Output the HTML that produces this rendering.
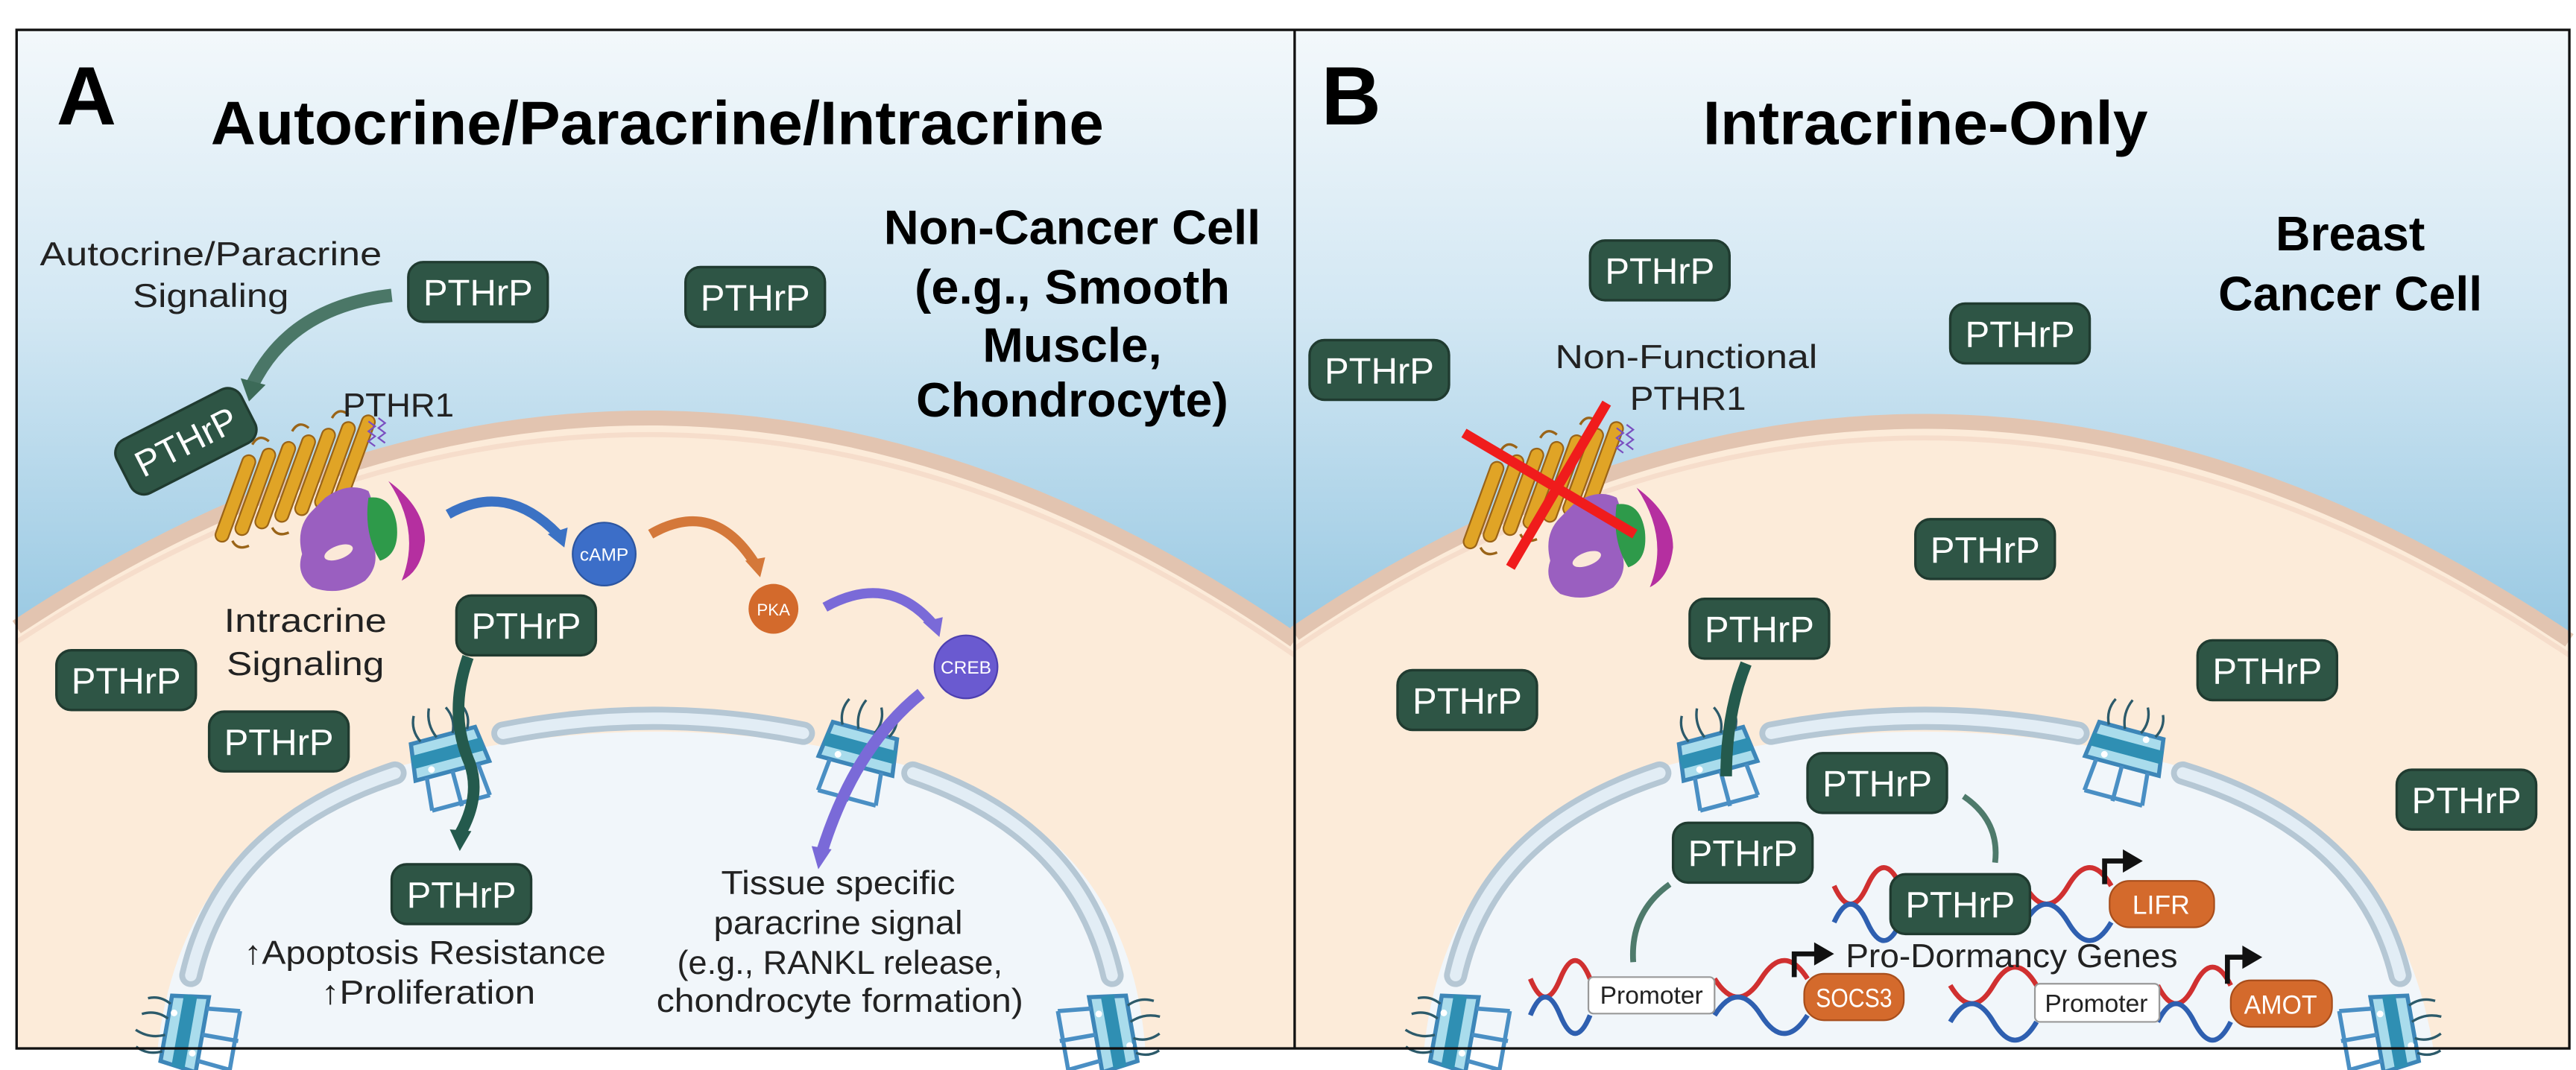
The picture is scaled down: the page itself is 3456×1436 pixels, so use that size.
<!DOCTYPE html>
<html><head><meta charset="utf-8"><style>
html,body{margin:0;padding:0;background:#fff;}
svg{display:block;}
text{font-family:"Liberation Sans",sans-serif;}
</style></head><body>
<svg width="3456" height="1436" viewBox="0 0 1552 645" preserveAspectRatio="none" xmlns="http://www.w3.org/2000/svg">
<defs>
<linearGradient id="skyg" x1="0" y1="18" x2="0" y2="400" gradientUnits="userSpaceOnUse">
<stop offset="0" stop-color="#f3f8fb"/><stop offset="0.45" stop-color="#d2e7f3"/><stop offset="1" stop-color="#94c6e1"/>
</linearGradient>
<g id="pth">
<rect x="-42" y="-18" width="84" height="36" rx="9" fill="#2e5545" stroke="#203b30" stroke-width="1.5"/>
<text x="0" y="8" font-size="22" fill="#fff" text-anchor="middle" textLength="66" lengthAdjust="spacingAndGlyphs">PTHrP</text>
</g>
<g id="pore">
<path d="M-20,-12 L20,-12 L23,10 L-23,10 Z" fill="#a9dcec" stroke="#3d86b8" stroke-width="2.5"/>
<rect x="-22" y="-5" width="44" height="8" fill="#2f8fb3"/>
<circle cx="-12" cy="6" r="2" fill="#fff"/><circle cx="10" cy="-9" r="2" fill="#fff"/>
<path d="M-16,10 L-18,30 M0,10 L0,32 M16,10 L18,30 M-18,30 L18,30" stroke="#4a8fc4" stroke-width="2.5" fill="none"/>
<path d="M-14,-12 q-4,-8 0,-16 M-4,-12 q-4,-9 0,-18 M6,-12 q4,-8 0,-16 M15,-12 q4,-7 1,-14" stroke="#2c5a6a" stroke-width="1.5" fill="none"/>
</g>
<g id="rec">
<g fill="#e0a426" stroke="#9a6418" stroke-width="1">
<rect x="-4" y="-27" width="8" height="55" rx="4" transform="translate(142,300) rotate(20)"/>
<rect x="-4" y="-27" width="8" height="55" rx="4" transform="translate(154,296) rotate(20)"/>
<rect x="-4" y="-27" width="8" height="55" rx="4" transform="translate(166,292) rotate(20)"/>
<rect x="-4" y="-27" width="8" height="55" rx="4" transform="translate(178,288) rotate(20)"/>
<rect x="-4" y="-27" width="8" height="55" rx="4" transform="translate(190,284) rotate(20)"/>
<rect x="-4" y="-27" width="8" height="55" rx="4" transform="translate(202,280) rotate(20)"/>
<rect x="-4" y="-27" width="8" height="55" rx="4" transform="translate(214,276) rotate(20)"/>
</g>
<g fill="none" stroke="#9a6418" stroke-width="1.5">
<path d="M140,326 q3,6 10,3"/><path d="M164,318 q3,6 10,3"/><path d="M188,310 q3,6 10,3"/>
<path d="M152,268 q4,-7 10,-2"/><path d="M176,260 q4,-7 10,-2"/><path d="M200,252 q4,-7 10,-2"/>
</g>
<path d="M222,254 l4,3 l-4,3 l4,3 l-4,3 l4,3 M228,252 l4,3 l-4,3 l4,3 l-4,3 l4,3" stroke="#7a4fc0" stroke-width="1" fill="none"/>
<path d="M196,300 q14,-10 26,-4 q6,14 2,30 q6,14 -4,24 q-16,10 -32,4 q-10,-8 -6,-20 q-4,-16 6,-26z" fill="#9a5fc0"/>
<ellipse cx="204" cy="333" rx="9" ry="4" transform="rotate(-20 204 333)" fill="#fbe9d8"/>
<path d="M222,300 q14,-2 17,16 q2,18 -10,22 q-10,-16 -7,-38z" fill="#2e9a4a"/>
<path d="M234,290 q22,16 22,36 q-2,18 -14,24 q12,-30 -8,-60z" fill="#b52fa0"/>
</g>
</defs>
<rect width="1552" height="645" fill="#fff"/>
<!-- Panel A -->
<rect x="10" y="18" width="770" height="614" fill="url(#skyg)"/>
<path d="M10,378 Q398,122 780,386 L780,632 L10,632 Z" fill="#fcebd9"/>
<path d="M10,378 Q398,122 780,386" fill="none" stroke="#e2c4b0" stroke-width="9"/>
<path d="M10,387 Q398,133 780,395" fill="none" stroke="#f6ddcb" stroke-width="3"/>
<path d="M95,632 Q110,500 240,462 Q395,420 548,462 Q680,500 690,632 Z" fill="#f1f6fa"/>
<g fill="none" stroke-linecap="round">
<path d="M115,588 Q135,500 238,466" stroke="#b5c7d4" stroke-width="14"/>
<path d="M115,588 Q135,500 238,466" stroke="#e2edf5" stroke-width="7"/>
<path d="M303,442 Q394,424 484,442" stroke="#b5c7d4" stroke-width="14"/>
<path d="M303,442 Q394,424 484,442" stroke="#e2edf5" stroke-width="7"/>
<path d="M550,466 Q650,500 670,588" stroke="#b5c7d4" stroke-width="14"/>
<path d="M550,466 Q650,500 670,588" stroke="#e2edf5" stroke-width="7"/>
</g>
<use href="#pore" transform="translate(270,455) rotate(-15)"/>
<use href="#pore" transform="translate(518,452) rotate(15)"/>
<use href="#pore" transform="translate(112,622) rotate(-80)"/>
<use href="#pore" transform="translate(670,622) rotate(80)"/>
<use href="#rec"/>
<!-- arrows A -->
<path d="M236,178 Q175,185 152,232" fill="none" stroke="#3c6a58" stroke-width="8" opacity="0.9"/>
<path d="M145,228 L150,242 L160,232 Z" fill="#3c6a58"/>
<path d="M270,310 Q305,290 336,322" fill="none" stroke="#3b72c4" stroke-width="6"/>
<path d="M330,322 L340,330 L342,318 Z" fill="#3b72c4"/>
<path d="M392,322 Q430,300 455,340" fill="none" stroke="#d4783a" stroke-width="6"/>
<path d="M449,338 L458,348 L461,336 Z" fill="#d4783a"/>
<path d="M497,366 Q535,345 562,376" fill="none" stroke="#7a6ad8" stroke-width="6"/>
<path d="M556,375 L566,384 L568,372 Z" fill="#7a6ad8"/>
<path d="M282,396 Q270,430 283,460 Q290,480 277,503" fill="none" stroke="#245a4d" stroke-width="7"/>
<path d="M271,500 L277,513 L284,501 Z" fill="#245a4d"/>
<path d="M555,418 Q515,450 495,514" fill="none" stroke="#7a6ad8" stroke-width="7"/>
<path d="M489,510 L493,524 L501,512 Z" fill="#7a6ad8"/>
<circle cx="364" cy="334" r="19" fill="#3c6ec8" stroke="#2c55a0"/><text x="364" y="338" font-size="11" fill="#fff" text-anchor="middle">cAMP</text>
<circle cx="466" cy="367" r="15" fill="#d36a2c"/><text x="466" y="371" font-size="10" fill="#fff" text-anchor="middle">PKA</text>
<circle cx="582" cy="402" r="19" fill="#6a5ad0" stroke="#4d3fb0"/><text x="582" y="406" font-size="11" fill="#fff" text-anchor="middle">CREB</text>
<use href="#pth" transform="translate(288,176)"/>
<use href="#pth" transform="translate(455,179)"/>
<use href="#pth" transform="translate(112,266) rotate(-27)"/>
<use href="#pth" transform="translate(317,377)"/>
<use href="#pth" transform="translate(76,410)"/>
<use href="#pth" transform="translate(168,447)"/>
<use href="#pth" transform="translate(278,539)"/>
<text x="34" y="75" font-size="50" font-weight="bold">A</text>
<text x="127" y="87" font-size="37" font-weight="bold" textLength="538" lengthAdjust="spacingAndGlyphs">Autocrine/Paracrine/Intracrine</text>
<g font-size="29" font-weight="bold" text-anchor="middle">
<text x="646" y="147" textLength="227" lengthAdjust="spacingAndGlyphs">Non-Cancer Cell</text>
<text x="646" y="183" textLength="190" lengthAdjust="spacingAndGlyphs">(e.g., Smooth</text>
<text x="646" y="218" textLength="108" lengthAdjust="spacingAndGlyphs">Muscle,</text>
<text x="646" y="251" textLength="188" lengthAdjust="spacingAndGlyphs">Chondrocyte)</text>
</g>
<g font-size="20" text-anchor="middle" fill="#222">
<text x="127" y="160" textLength="206" lengthAdjust="spacingAndGlyphs">Autocrine/Paracrine</text>
<text x="127" y="185" textLength="94" lengthAdjust="spacingAndGlyphs">Signaling</text>
<text x="240" y="251" textLength="67" lengthAdjust="spacingAndGlyphs">PTHR1</text>
<text x="184" y="381" textLength="98" lengthAdjust="spacingAndGlyphs">Intracrine</text>
<text x="184" y="407" textLength="95" lengthAdjust="spacingAndGlyphs">Signaling</text>
<text x="256" y="581" textLength="218" lengthAdjust="spacingAndGlyphs">↑Apoptosis Resistance</text>
<text x="258" y="605" textLength="129" lengthAdjust="spacingAndGlyphs">↑Proliferation</text>
<text x="505" y="539" textLength="141" lengthAdjust="spacingAndGlyphs">Tissue specific</text>
<text x="505" y="563" textLength="150" lengthAdjust="spacingAndGlyphs">paracrine signal</text>
<text x="506" y="587" textLength="196" lengthAdjust="spacingAndGlyphs">(e.g., RANKL release,</text>
<text x="506" y="610" textLength="221" lengthAdjust="spacingAndGlyphs">chondrocyte formation)</text>
</g>
<!-- Panel B -->
<rect x="780" y="18" width="768" height="614" fill="url(#skyg)"/>
<path d="M780,382 Q1160,124 1548,386 L1548,632 L780,632 Z" fill="#fcebd9"/>
<path d="M780,382 Q1160,124 1548,386" fill="none" stroke="#e2c4b0" stroke-width="9"/>
<path d="M780,391 Q1160,135 1548,395" fill="none" stroke="#f6ddcb" stroke-width="3"/>
<path d="M858,632 Q872,500 1002,462 Q1160,420 1313,462 Q1445,500 1466,632 Z" fill="#f1f6fa"/>
<g fill="none" stroke-linecap="round">
<path d="M877,588 Q897,500 1000,466" stroke="#b5c7d4" stroke-width="14"/>
<path d="M877,588 Q897,500 1000,466" stroke="#e2edf5" stroke-width="7"/>
<path d="M1067,442 Q1160,424 1252,442" stroke="#b5c7d4" stroke-width="14"/>
<path d="M1067,442 Q1160,424 1252,442" stroke="#e2edf5" stroke-width="7"/>
<path d="M1315,466 Q1425,500 1446,588" stroke="#b5c7d4" stroke-width="14"/>
<path d="M1315,466 Q1425,500 1446,588" stroke="#e2edf5" stroke-width="7"/>
</g>
<use href="#pore" transform="translate(1034,455) rotate(-15)"/>
<use href="#pore" transform="translate(1281,452) rotate(15)"/>
<use href="#pore" transform="translate(877,622) rotate(-80)"/>
<use href="#pore" transform="translate(1442,622) rotate(80)"/>
<use href="#rec" transform="translate(752,4)"/>
<path d="M882,261 L985,322 M968,243 L910,342" stroke="#f01c1c" stroke-width="6"/>
<path d="M1052,400 Q1040,430 1040,468" fill="none" stroke="#245a4d" stroke-width="7"/>
<path d="M1183,480 Q1205,495 1202,520" fill="none" stroke="#4e7a6b" stroke-width="3.5"/>
<path d="M1006,533 Q982,550 984,580" fill="none" stroke="#4e7a6b" stroke-width="3.5"/>
<!-- DNA -->
<g fill="none" stroke-width="3">
<path d="M1105,534 q10,22 20,0 q10,-22 20,0" stroke="#d03030"/><path d="M1105,556 q10,-22 20,0 q10,22 20,0" stroke="#2e5fb0"/>
<path d="M1220,534 q13,22 26,0 q13,-22 26,0" stroke="#d03030"/><path d="M1220,556 q13,-22 26,0 q13,22 26,0" stroke="#2e5fb0"/>
<path d="M922,590 q9,22 18,0 q9,-22 18,0" stroke="#d03030"/><path d="M922,612 q9,-22 18,0 q9,22 18,0" stroke="#2e5fb0"/>
<path d="M1033,590 q14,22 28,0 q14,-22 28,0" stroke="#d03030"/><path d="M1033,612 q14,-22 28,0 q14,22 28,0" stroke="#2e5fb0"/>
<path d="M1175,594 q13,22 26,0 q13,-22 26,0" stroke="#d03030"/><path d="M1175,616 q13,-22 26,0 q13,22 26,0" stroke="#2e5fb0"/>
<path d="M1300,594 q11,22 22,0 q11,-22 22,0" stroke="#d03030"/><path d="M1300,616 q11,-22 22,0 q11,22 22,0" stroke="#2e5fb0"/>
</g>
<g stroke="#111" stroke-width="3" fill="none">
<path d="M1268,533 V519 H1280"/><path d="M1081,589 V575 H1094"/><path d="M1342,593 V577 H1352"/>
</g>
<g fill="#111"><path d="M1279,512 L1291,519 L1279,526Z"/><path d="M1093,568 L1105,575 L1093,582Z"/><path d="M1351,570 L1363,577 L1351,584Z"/></g>
<rect x="1271" y="531" width="63" height="28" rx="12" fill="#d46a2c" stroke="#a84e1c"/><text x="1302" y="551" font-size="16" fill="#fff" text-anchor="middle">LIFR</text>
<rect x="1087" y="587" width="60" height="28" rx="12" fill="#d46a2c" stroke="#a84e1c"/><text x="1117" y="607" font-size="16" fill="#fff" text-anchor="middle" textLength="46" lengthAdjust="spacingAndGlyphs">SOCS3</text>
<rect x="1344" y="591" width="61" height="28" rx="12" fill="#d46a2c" stroke="#a84e1c"/><text x="1374" y="611" font-size="16" fill="#fff" text-anchor="middle" textLength="44" lengthAdjust="spacingAndGlyphs">AMOT</text>
<rect x="957" y="589" width="76" height="22" rx="3" fill="#fff" stroke="#999"/><text x="995" y="605" font-size="15" fill="#222" text-anchor="middle" textLength="62" lengthAdjust="spacingAndGlyphs">Promoter</text>
<rect x="1226" y="593" width="75" height="23" rx="3" fill="#fff" stroke="#999"/><text x="1263" y="610" font-size="15" fill="#222" text-anchor="middle" textLength="62" lengthAdjust="spacingAndGlyphs">Promoter</text>
<use href="#pth" transform="translate(1000,163)"/>
<use href="#pth" transform="translate(831,223)"/>
<use href="#pth" transform="translate(1217,201)"/>
<use href="#pth" transform="translate(1196,331)"/>
<use href="#pth" transform="translate(1060,379)"/>
<use href="#pth" transform="translate(884,422)"/>
<use href="#pth" transform="translate(1366,404)"/>
<use href="#pth" transform="translate(1486,482)"/>
<use href="#pth" transform="translate(1131,472)"/>
<use href="#pth" transform="translate(1050,514)"/>
<use href="#pth" transform="translate(1181,545)"/>
<text x="796" y="75" font-size="50" font-weight="bold">B</text>
<text x="1026" y="87" font-size="37" font-weight="bold" textLength="268" lengthAdjust="spacingAndGlyphs">Intracrine-Only</text>
<g font-size="29" font-weight="bold" text-anchor="middle">
<text x="1416" y="151" textLength="90" lengthAdjust="spacingAndGlyphs">Breast</text>
<text x="1416" y="187" textLength="159" lengthAdjust="spacingAndGlyphs">Cancer Cell</text>
</g>
<g font-size="20" text-anchor="middle" fill="#222">
<text x="1016" y="222" textLength="158" lengthAdjust="spacingAndGlyphs">Non-Functional</text>
<text x="1017" y="247" textLength="70" lengthAdjust="spacingAndGlyphs">PTHR1</text>
<text x="1212" y="583" textLength="200" lengthAdjust="spacingAndGlyphs">Pro-Dormancy Genes</text>
</g>
<!-- borders -->
<rect x="10" y="18" width="1538" height="614" fill="none" stroke="#111" stroke-width="1.5"/>
<line x1="780" y1="18" x2="780" y2="632" stroke="#111" stroke-width="1.5"/>
</svg>
</body></html>
